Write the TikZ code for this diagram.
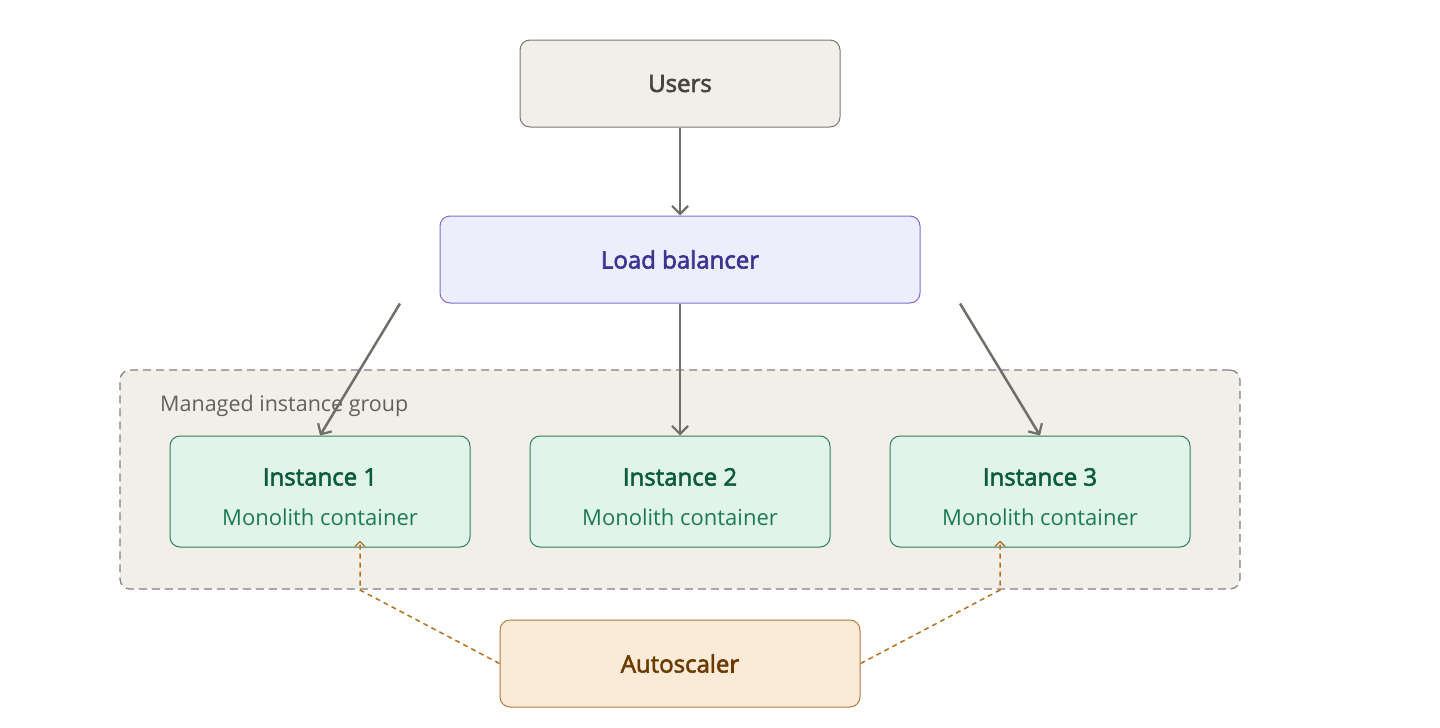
\documentclass[tikz,border=0pt]{standalone}
\usepackage{fontspec}
\setmainfont{Open Sans}
\newfontfamily\semib{Open Sans}[FakeBold=2.5]
\usetikzlibrary{arrows.meta}
\definecolor{ubg}{HTML}{F2EFE8}\definecolor{ubd}{HTML}{7A7872}\definecolor{utx}{HTML}{444444}
\definecolor{lbg}{HTML}{EEEDFC}\definecolor{lbd}{HTML}{7A6FCF}\definecolor{ltx}{HTML}{3B3491}
\definecolor{ibg}{HTML}{E1F4EC}\definecolor{ibd}{HTML}{2E7D5B}\definecolor{itx}{HTML}{0B5B3F}\definecolor{isub}{HTML}{1E7A52}
\definecolor{abg}{HTML}{FAEBD8}\definecolor{abd}{HTML}{B07A3A}\definecolor{atx}{HTML}{6B3A00}
\definecolor{arr}{HTML}{6F6F6A}\definecolor{dsh}{HTML}{B8701E}
\begin{document}
\begin{tikzpicture}[x=1pt,y=-1pt,
 box/.style={rounded corners=10pt,line width=1pt,inner sep=0pt},
 big/.style={font=\fontsize{24}{28}\selectfont\semib},
 conn/.style={draw=arr,line width=2.5pt,-{Straight Barb[length=8pt,width=16pt,line width=2.2pt]}},
 scal/.style={draw=dsh,line width=1.5pt,dash pattern=on 5pt off 4pt,-{Straight Barb[length=5pt,width=10pt,line width=1.3pt]}}]
\useasboundingbox (0,0) rectangle (1440,728);
\node[box,big,draw=ubd,fill=ubg,minimum width=320pt,minimum height=87pt,text=utx] (users) at (680,83.5) {Users};
\node[box,big,draw=lbd,fill=lbg,minimum width=480pt,minimum height=87pt,text=ltx] (lb) at (680,259.5) {Load balancer};
\node[box,draw=gray,dash pattern=on 8pt off 5pt,line width=1.2pt,fill=ubg,minimum width=1120pt,minimum height=219pt] (grp) at (680,479.5) {};
\node[anchor=west,inner sep=0pt,text=utx!85,font=\fontsize{21.5}{25}\selectfont] (grpl) at (160,406) {Managed instance group};
\foreach \i/\x in {1/320,2/680,3/1040}{
 \node[box,draw=ibd,fill=ibg,minimum width=300pt,minimum height=111pt] (i\i) at (\x,491.5) {};
 \node[big,text=itx] (t\i) at (\x,477) {Instance \i};
 \node[text=isub,font=\fontsize{22}{26}\selectfont] (s\i) at (\x,517) {Monolith container};
}
\node[box,big,draw=abd,fill=abg,minimum width=360pt,minimum height=87pt,text=atx] (as) at (680,663.5) {Autoscaler};
\draw[conn] (users.south) -- (lb.north);
\draw[conn] ([xshift=-280pt]lb.south) -- (i1.north);
\draw[conn] (lb.south) -- (i2.north);
\draw[conn] ([xshift=280pt]lb.south) -- (i3.north);
\coordinate (c1) at (360,590); \coordinate (c3) at (1000,590);
\draw[scal] (as.west) -- (c1) -- ([xshift=40pt,yshift=7pt]i1.south);
\draw[scal] (as.east) -- (c3) -- ([xshift=-40pt,yshift=7pt]i3.south);
\end{tikzpicture}
\end{document}
